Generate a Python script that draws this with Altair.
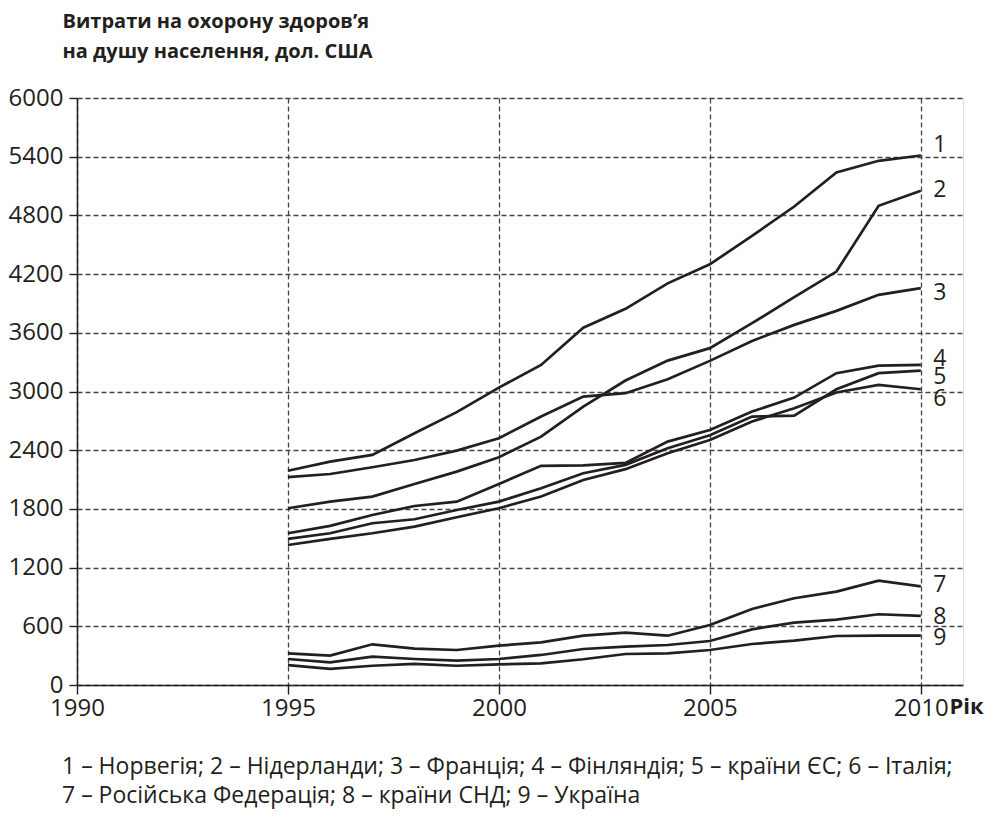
import altair as alt
import pandas as pd

years = list(range(1995, 2011))

norway      = [2190, 2283, 2352, 2574, 2789, 3040, 3272, 3652, 3845, 4105, 4300, 4591, 4891, 5239, 5358, 5412]
netherlands = [1807, 1875, 1926, 2055, 2181, 2328, 2539, 2846, 3112, 3316, 3443, 3698, 3964, 4226, 4898, 5051]
france      = [2124, 2157, 2226, 2300, 2396, 2522, 2744, 2948, 2983, 3126, 3313, 3517, 3681, 3824, 3988, 4056]
finland     = [1551, 1626, 1738, 1830, 1874, 2055, 2240, 2245, 2270, 2488, 2607, 2795, 2938, 3187, 3265, 3272]
eu          = [1493, 1551, 1653, 1694, 1789, 1874, 2011, 2164, 2250, 2420, 2552, 2744, 2754, 3023, 3187, 3214]
italy       = [1431, 1493, 1551, 1619, 1715, 1807, 1926, 2096, 2206, 2369, 2505, 2693, 2829, 2990, 3067, 3023]
russia      = [324, 300, 416, 372, 358, 402, 436, 504, 535, 504, 613, 777, 887, 955, 1067, 1008]
cis         = [266, 232, 290, 266, 249, 266, 307, 368, 392, 409, 450, 569, 638, 668, 723, 706]
ukraine     = [204, 164, 197, 215, 197, 211, 222, 263, 317, 324, 358, 419, 453, 501, 504, 504]

series = [norway, netherlands, france, finland, eu, italy, russia, cis, ukraine]
series_ids = ["1", "2", "3", "4", "5", "6", "7", "8", "9"]
# vertical position (in dollars) of each end-of-line number label
label_y = [5520, 5060, 4010, 3330, 3145, 2925, 1020, 700, 480]

x_ticks = [1990, 1995, 2000, 2005, 2010]
y_ticks = [0, 600, 1200, 1800, 2400, 3000, 3600, 4200, 4800, 5400, 6000]

title_lines = ["Витрати на охорону здоров’я", "на душу населення, дол. США"]
legend_lines = [
    "1 – Норвегія; 2 – Нідерланди; 3 – Франція; 4 – Фінляндія; 5 – країни ЄС; 6 – Італія;",
    "7 – Російська Федерація; 8 – країни СНД; 9 – Україна",
]
x_title = "Рік"

rows = []
for sid, vals in zip(series_ids, series):
    for yr, v in zip(years, vals):
        rows.append({"year": yr, "value": v, "series": sid})
df = pd.DataFrame(rows)

lab = pd.DataFrame({"series": series_ids, "year": [years[-1]] * len(series_ids), "ly": label_y})

FONT = "Open Sans"
INK = "#231f20"

x_scale = alt.Scale(domain=[1990, 2011], nice=False, zero=False)
y_scale = alt.Scale(domain=[0, 6000], nice=False)

x_axis = alt.Axis(
    values=x_ticks, format="d", title=x_title,
    titleX=872, titleY=21, titleAlign="left", titleBaseline="middle",
    titleFont=FONT, titleFontSize=22, titleFontWeight="bold", titleColor=INK,
    labelFont=FONT, labelFontSize=24, labelColor=INK, labelPadding=2,
    tickSize=9, tickColor=INK, tickWidth=1.4, domainColor=INK, domainWidth=1.5,
    grid=True, gridColor="#444444", gridDash=[5, 3], gridWidth=1.3,
    labelFlush=False,
)
y_axis = alt.Axis(
    values=y_ticks, format="d", title=title_lines,
    titleX=-15, titleY=-71, titleAngle=0, titleAlign="left", titleBaseline="alphabetic",
    titleFont=FONT, titleFontSize=20, titleFontWeight="bold", titleColor=INK, titleLineHeight=30,
    labelFont=FONT, labelFontSize=24, labelColor=INK, labelPadding=6,
    tickSize=8, tickColor=INK, tickWidth=1.4, domainColor=INK, domainWidth=1.5,
    grid=True, gridColor="#444444", gridDash=[5, 3], gridWidth=1.3,
)

lines = alt.Chart(df).mark_line(color=INK, strokeWidth=2.7).encode(
    x=alt.X("year:Q", scale=x_scale, axis=x_axis),
    y=alt.Y("value:Q", scale=y_scale, axis=y_axis),
    detail="series:N",
)

labels = alt.Chart(lab).mark_text(
    font=FONT, fontSize=23, color=INK, align="center", baseline="middle", dx=19
).encode(
    x=alt.X("year:Q", scale=x_scale),
    y=alt.Y("ly:Q", scale=y_scale),
    text="series:N",
)

legend = alt.Chart(pd.DataFrame({"k": [0]})).mark_text(
    font=FONT, fontSize=23, color=INK, align="left", baseline="alphabetic", lineHeight=29
).encode(
    x=alt.value(-15),
    y=alt.value(676),
    text=alt.value(legend_lines),
)

chart = alt.layer(lines, labels, legend).properties(
    width=886, height=587,
    autosize=alt.AutoSizeParams(type="none"),
    padding={"left": 69, "top": 90, "right": 22, "bottom": 126},
).configure_view(stroke=None).configure(background="white")

chart.save("out.html", embed_options={"renderer": "svg", "actions": False})
